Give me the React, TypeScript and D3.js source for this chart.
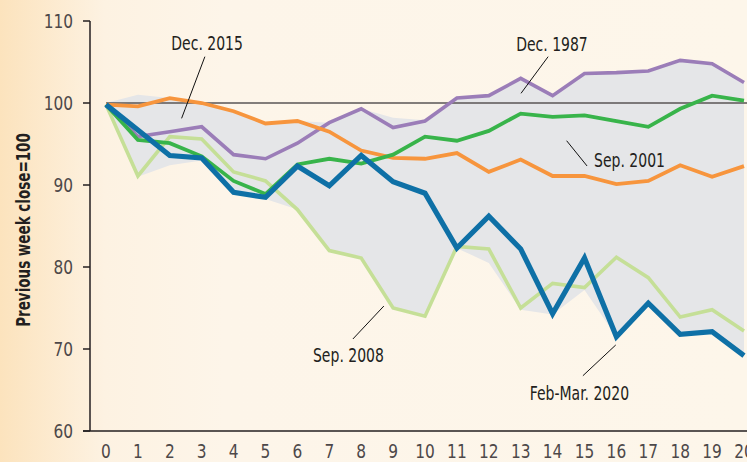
import React from "react";
import * as d3 from "d3";

const weeks = d3.range(0, 21);
const blue2020 = [99.8, 96.7, 93.6, 93.3, 89.1, 88.5, 92.3, 89.9, 93.6, 90.4, 89.0, 82.3, 86.2, 82.2, 74.3, 81.1, 71.5, 75.6, 71.8, 72.1, 69.2];
const lightGreen2008 = [99.8, 91.1, 95.9, 95.6, 91.6, 90.5, 87.0, 82.0, 81.1, 75.0, 74.0, 82.5, 82.2, 75.0, 78.0, 77.5, 81.2, 78.7, 73.9, 74.8, 72.2];
const orange = [99.8, 99.6, 100.6, 100.0, 99.0, 97.5, 97.8, 96.5, 94.2, 93.3, 93.2, 93.9, 91.6, 93.1, 91.1, 91.1, 90.1, 90.5, 92.4, 91.0, 92.3];
const purple = [99.8, 95.9, 96.5, 97.1, 93.7, 93.2, 95.1, 97.6, 99.3, 97.0, 97.8, 100.6, 100.9, 103.0, 100.9, 103.6, 103.7, 103.9, 105.2, 104.8, 102.5];
const green = [99.8, 95.5, 95.1, 93.5, 90.5, 88.9, 92.5, 93.2, 92.6, 93.7, 95.9, 95.4, 96.6, 98.7, 98.3, 98.5, 97.8, 97.1, 99.3, 100.9, 100.3];
const bandUpper = [100, 101.0, 100.6, 100.0, 99.0, 97.5, 97.8, 97.6, 99.3, 98.2, 97.9, 100.6, 100.9, 103.0, 100.9, 103.6, 103.7, 103.9, 105.2, 104.8, 102.5];
const bandLower = [100, 91.0, 92.4, 93.0, 89.0, 88.3, 87.0, 82.0, 81.1, 75.0, 74.0, 82.3, 80.5, 74.8, 74.2, 77.2, 71.5, 75.6, 71.8, 72.1, 69.2];
const yTicks = [60, 70, 80, 90, 100, 110];
const xTicks = d3.range(0, 21);

const annLabels = ["Dec. 2015", "Dec. 1987", "Sep. 2001", "Sep. 2008", "Feb-Mar. 2020"];
const annText = [[3.17, 106.46], [13.98, 106.38], [16.41, 92.2], [7.6, 68.41], [14.84, 63.78]];
const annFrom = [[3.1, 105.65], [13.86, 105.65], [15.08, 92.32], [7.74, 71.22], [14.95, 66.74]];
const annTo = [[2.37, 98.13], [13.01, 101.18], [14.44, 95.4], [8.71, 75.24], [15.98, 70.49]];

const W = 747, H = 462;
const FONT = "'DejaVu Sans Condensed', 'Liberation Sans', sans-serif";

export default function App() {
  const x = d3.scaleLinear().domain([0, 20]).range([106, 744]);
  const y = d3.scaleLinear().domain([60, 110]).range([431, 21]);
  const line = d3.line<number>().x((_, i) => x(weeks[i])).y((d) => y(d));
  const area = d3.area<number>().x((_, i) => x(weeks[i])).y0((_, i) => y(bandLower[i])).y1((d) => y(d));

  const series = [
    { data: lightGreen2008, color: "#c5df97", w: 3.6 },
    { data: purple, color: "#9b7db8", w: 3.6 },
    { data: orange, color: "#f7953d", w: 3.8 },
    { data: green, color: "#38b44a", w: 3.8 },
    { data: blue2020, color: "#0e70a6", w: 5.2 },
  ];

  return (
    <svg width={W} height={H} style={{ display: "block", fontFamily: FONT }}>
      <style>{`body{margin:0}`}</style>
      <defs>
        <linearGradient id="bg" x1="0" x2="1" y1="0" y2="0">
          <stop offset="0" stopColor="#fce3bd" />
          <stop offset="0.14" stopColor="#fdf2e2" />
          <stop offset="0.3" stopColor="#fdf5e9" />
          <stop offset="1" stopColor="#fdf6ea" />
        </linearGradient>
      </defs>
      <rect x={0} y={0} width={W} height={H} fill="url(#bg)" />
      <path d={area(bandUpper) || ""} fill="#e5e6e8" />
      <line x1={x(0)} x2={W} y1={y(100)} y2={y(100)} stroke="#595454" strokeWidth={1.6} />
      {series.map((s, i) => (
        <path key={i} d={line(s.data) || ""} fill="none" stroke={s.color} strokeWidth={s.w} strokeLinejoin="miter" strokeMiterlimit={3} />
      ))}
      <line x1={90} x2={90} y1={y(110)} y2={y(60)} stroke="#231f20" strokeWidth={1.5} />
      <line x1={83} x2={W} y1={y(60)} y2={y(60)} stroke="#231f20" strokeWidth={1.5} />
      {yTicks.map((t) => (
        <g key={t}>
          <line x1={83} x2={90} y1={y(t)} y2={y(t)} stroke="#231f20" strokeWidth={1.5} />
          <text transform={`translate(73,${y(t) + 7}) scale(0.9,1)`} textAnchor="end" fontSize={19} fill="#4d4849">{t}</text>
        </g>
      ))}
      {xTicks.map((t) => (
        <text key={t} transform={`translate(${x(t)},458) scale(0.9,1)`} textAnchor="middle" fontSize={19} fill="#4d4849">{t}</text>
      ))}
      <text transform="translate(30,230) rotate(-90) scale(0.79,1)" textAnchor="middle" fontSize={19} fontWeight="bold" fill="#231f20">Previous week close=100</text>
      {annLabels.map((l, i) => (
        <g key={l}>
          <line x1={x(annFrom[i][0])} y1={y(annFrom[i][1])} x2={x(annTo[i][0])} y2={y(annTo[i][1])} stroke="#111" strokeWidth={1} />
          <text transform={`translate(${x(annText[i][0])},${y(annText[i][1])}) scale(0.82,1)`} textAnchor="middle" fontSize={19} fill="#231f20">{l}</text>
        </g>
      ))}
    </svg>
  );
}
